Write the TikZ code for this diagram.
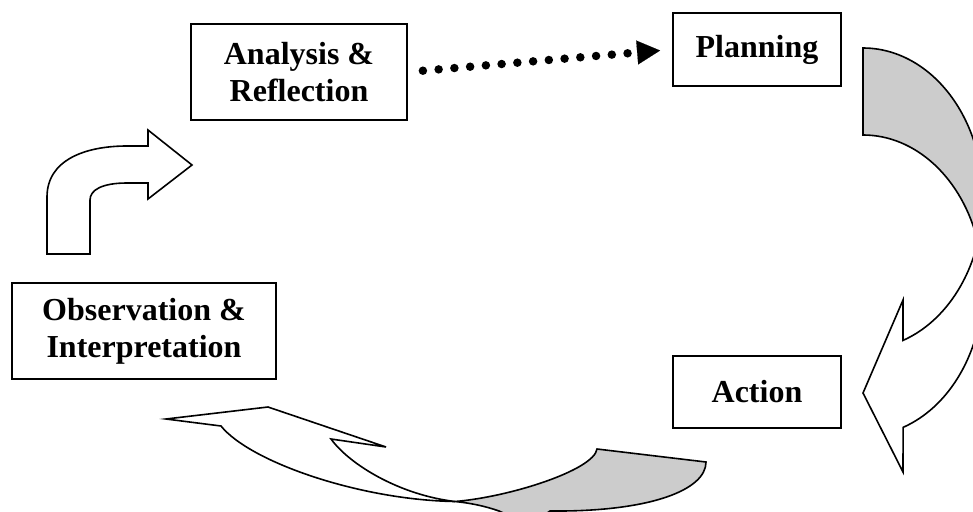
\documentclass[tikz,border=0pt]{standalone}
\usepackage{fontspec}
\setmainfont{Liberation Serif}
\usetikzlibrary{arrows.meta}
\definecolor{backgray}{RGB}{204,204,204}
\begin{document}
\begin{tikzpicture}[x=1pt,y=1pt,yscale=-1,
  box/.style={draw=black, line width=1.9pt, fill=white, inner sep=0pt, align=center,
    font=\fontsize{32}{37}\selectfont\bfseries},
  blockarrow/.style={draw=black, line width=1.6pt, line join=miter, fill=white},
  backside/.style={draw=black, line width=1.6pt, line join=miter, fill=backgray},
  dotarrow/.style={line width=8.5pt, line cap=round, dash pattern=on 0pt off 15.8pt,
    -{Triangle[length=23pt,width=24pt,line width=0.1pt]}}]
\useasboundingbox (0,0) rectangle (973,511);
\begin{scope}
\clip (0,0) rectangle (973,511);
% right curved arrow (Planning -> Action)
\path[backside] (863,48) arc[start angle=-90, end angle=16.8, x radius=120, y radius=150.5]
  arc[start angle=-16.8, end angle=-90, x radius=120, y radius=150.5] -- cycle;
\path[blockarrow] (977.9,242) arc[start angle=-16.8, end angle=70.5, x radius=120, y radius=150.5]
  -- (903,472) -- (863,393) -- (903,300) -- (903,340.4)
  arc[start angle=70.5, end angle=16.8, x radius=120, y radius=150.5] -- cycle;
% bottom curved arrow (Action -> Observation)
\path[backside] (455,501.5) .. controls (510,497) and (594,470) .. (597,449) -- (706,462)
  .. controls (706,490) and (650,512) .. (550,511) -- (530,525) -- (499,511)
  .. controls (485,506) and (470,503) .. (455,501.5) -- cycle;
\path[blockarrow] (221,426) -- (166,419) -- (268,407) -- (386,447) -- (331,439)
  .. controls (350,465) and (400,495) .. (455,501.5)
  .. controls (360,500) and (250,462) .. (221,426) -- cycle;
% bent arrow (Observation -> Analysis)
\path[blockarrow] (47,254) -- (47,197) .. controls (47,160) and (85,146) .. (127,146)
  -- (148,146) -- (148,130) -- (192,165) -- (148,199) -- (148,183) -- (127,183)
  .. controls (102,183) and (90,190) .. (90,200) -- (90,254) -- cycle;
\end{scope}
\node[box, minimum width=216pt, minimum height=96pt] (AR) at (299,72) {Analysis \&\\Reflection};
\node[box, minimum width=168pt, minimum height=73pt] (PL) at (757,49.5) {Planning};
\node[box, minimum width=264pt, minimum height=96pt] (OI) at (144,331) {Observation \&\\Interpretation};
\node[box, minimum width=168pt, minimum height=72pt] (AC) at (757,392) {Action};
\draw[dotarrow, shorten <=15pt, shorten >=12pt] (AR.east) -- (PL.west);
\end{tikzpicture}
\end{document}
